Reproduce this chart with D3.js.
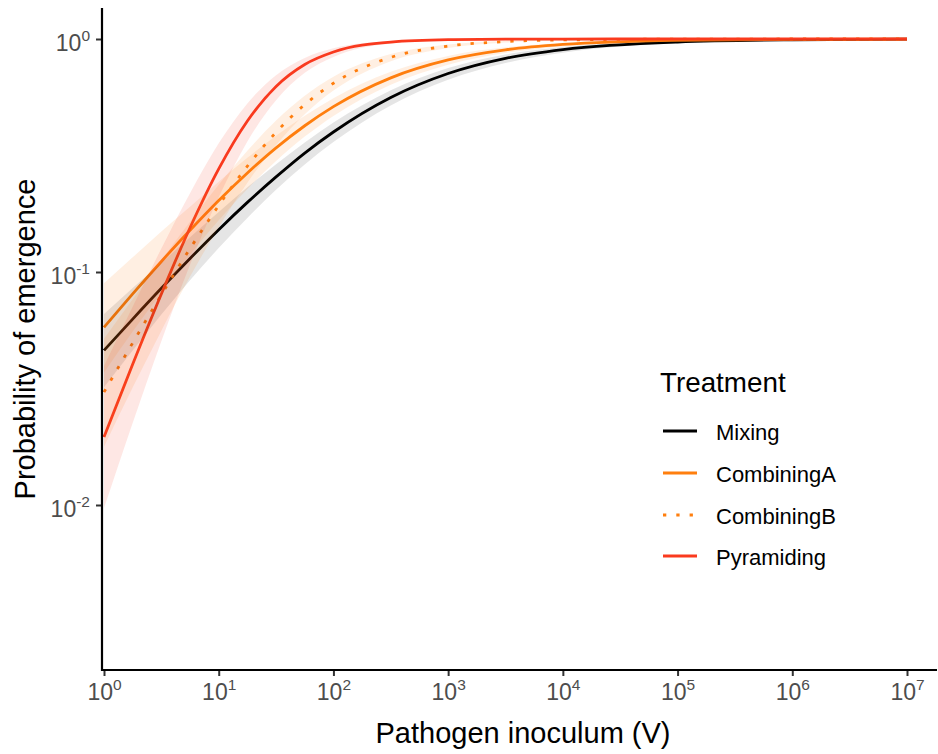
<!DOCTYPE html>
<html><head><meta charset="utf-8">
<script src="https://cdn.jsdelivr.net/npm/d3@7"></script>
<style>
body{margin:0;background:#fff}
text{font-family:"Liberation Sans",Arial,Helvetica,sans-serif}
</style>
</head><body>
<svg id="chart" width="938" height="754"></svg>
<script>
// ---------------- data ----------------
const inoculum = [1, 1.778, 3.162, 5.623, 10, 17.78, 31.62, 56.23, 100, 316.2, 1000, 3162, 1e4, 1e5, 1e6, 1e7];

const mixing   = [0.0461, 0.0628, 0.0851, 0.1143, 0.152, 0.199, 0.256, 0.324, 0.399, 0.561, 0.711, 0.826, 0.901, 0.971, 0.992, 0.998];
const mixingLo = [0.0320, 0.0460, 0.0657, 0.0922, 0.1267, 0.1704, 0.2253, 0.2896, 0.3613, 0.5187, 0.6682, 0.7883, 0.8733, 0.9589, 0.9874, 0.9962];
const mixingHi = [0.0660, 0.0853, 0.1096, 0.1409, 0.1809, 0.2311, 0.2901, 0.3595, 0.4378, 0.6023, 0.7503, 0.8576, 0.9234, 0.9800, 0.9950, 0.9988];

const combiningA   = [0.0579, 0.0805, 0.111, 0.151, 0.2026, 0.266, 0.341, 0.4243, 0.5125, 0.6813, 0.8131, 0.8985, 0.9473, 0.9868, 0.9968, 0.9992];
const combiningALo = [0.0370, 0.0555, 0.0817, 0.1187, 0.1666, 0.2271, 0.2994, 0.3811, 0.4675, 0.6365, 0.7756, 0.8710, 0.9289, 0.9800, 0.9946, 0.9985];
const combiningAHi = [0.0895, 0.1156, 0.1493, 0.1908, 0.2441, 0.3089, 0.3846, 0.4688, 0.5573, 0.7231, 0.8455, 0.9206, 0.9612, 0.9913, 0.9981, 0.9996];

const combiningB   = [0.0305, 0.0496, 0.0798, 0.126, 0.193, 0.2845, 0.3977, 0.5231, 0.6457, 0.834, 0.9328, 0.9746, 0.9906, 0.9988, 0.9998, 1.0];
const combiningBLo = [0.0178, 0.0319, 0.0560, 0.0956, 0.1558, 0.2418, 0.3509, 0.4756, 0.6011, 0.8030, 0.9152, 0.9659, 0.9868, 0.9980, 0.9997, 1.0];
const combiningBHi = [0.0517, 0.0764, 0.1125, 0.1642, 0.2369, 0.3312, 0.4465, 0.5702, 0.6878, 0.8612, 0.9469, 0.9810, 0.9934, 0.9992, 0.9999, 1.0];

const pyramiding   = [0.0196, 0.0402, 0.0805, 0.1548, 0.2769, 0.4446, 0.626, 0.7777, 0.8798, 0.9697, 0.9929, 0.9984, 0.9996, 1.0, 1.0, 1.0];
const pyramidingLo = [0.0097, 0.0225, 0.0505, 0.1074, 0.2092, 0.3630, 0.5461, 0.7156, 0.8375, 0.9554, 0.9887, 0.9972, 0.9993, 1.0, 1.0, 1.0];
const pyramidingHi = [0.0395, 0.0709, 0.1262, 0.2180, 0.3566, 0.5293, 0.6995, 0.8296, 0.9122, 0.9795, 0.9956, 0.9991, 0.9998, 1.0, 1.0, 1.0];

const treatments = ["Mixing", "CombiningA", "CombiningB", "Pyramiding"];
const xTicks = [1, 10, 100, 1e3, 1e4, 1e5, 1e6, 1e7];
const yTicks = [0.01, 0.1, 1];

// ---------------- setup ----------------
const colors = {Mixing: "#000000", CombiningA: "#FF7F0E", CombiningB: "#FF7F0E", Pyramiding: "#FA3A1E"};
const dashes = {Mixing: null, CombiningA: null, CombiningB: "3.3 10", Pyramiding: null};
const series = [
  {name: "Mixing", mid: mixing, lo: mixingLo, hi: mixingHi},
  {name: "CombiningA", mid: combiningA, lo: combiningALo, hi: combiningAHi},
  {name: "CombiningB", mid: combiningB, lo: combiningBLo, hi: combiningBHi},
  {name: "Pyramiding", mid: pyramiding, lo: pyramidingLo, hi: pyramidingHi}
];

const svg = d3.select("#chart");
svg.append("rect").attr("width", 938).attr("height", 754).attr("fill", "#fff");

const panel = {left: 102, right: 937, top: 8, bottom: 670};
const x = d3.scaleLog().domain([1, 1e7]).range([104, 907]);
const y = d3.scaleLog().domain([0.01, 1]).range([505, 39]);

const line = d3.line().x(d => x(d[0])).y(d => y(d[1])).curve(d3.curveMonotoneX);
const area = d3.area().x(d => x(d[0])).y0(d => y(d[1])).y1(d => y(d[2])).curve(d3.curveMonotoneX);

const plot = svg.append("g");
// lines
series.forEach(s => {
  plot.append("path")
    .datum(inoculum.map((v, i) => [v, s.mid[i]]))
    .attr("d", line)
    .attr("fill", "none")
    .attr("stroke", colors[s.name])
    .attr("stroke-width", 2.8)
    .attr("stroke-dasharray", dashes[s.name]);
});
// ribbons
series.forEach(s => {
  plot.append("path")
    .datum(inoculum.map((v, i) => [v, s.lo[i], s.hi[i]]))
    .attr("d", area)
    .attr("fill", colors[s.name])
    .attr("fill-opacity", s.name === "Mixing" ? 0.1 : 0.12)
    .attr("stroke", "none");
});

// ---------------- axes ----------------
const supLabel = (sel, v, size, supSize, supDy) => {
  const e = Math.round(Math.log10(v));
  sel.append("tspan").text("10").attr("font-size", size);
  sel.append("tspan").text(String(e)).attr("font-size", supSize).attr("dy", supDy);
};

const xAxis = svg.append("g").attr("transform", `translate(0,${panel.bottom})`)
  .call(d3.axisBottom(x).tickValues(xTicks).tickSize(6).tickFormat(""));
xAxis.select(".domain").remove();
xAxis.selectAll(".tick line").attr("stroke", "#333").attr("stroke-width", 2);
xAxis.selectAll(".tick").each(function(v) {
  const t = d3.select(this).append("text")
    .attr("y", 30).attr("text-anchor", "middle").attr("fill", "#4D4D4D");
  supLabel(t, v, 23, 15.5, -10);
});

const yAxis = svg.append("g").attr("transform", `translate(${panel.left},0)`)
  .call(d3.axisLeft(y).tickValues(yTicks).tickSize(6).tickFormat(""));
yAxis.select(".domain").remove();
yAxis.selectAll(".tick line").attr("stroke", "#333").attr("stroke-width", 2);
yAxis.selectAll(".tick").each(function(v) {
  const t = d3.select(this).append("text")
    .attr("x", -12).attr("y", 11).attr("text-anchor", "end").attr("fill", "#4D4D4D");
  supLabel(t, v, 23, 15.5, -10);
});

svg.append("line").attr("x1", panel.left).attr("x2", panel.right)
  .attr("y1", panel.bottom).attr("y2", panel.bottom).attr("stroke", "#000").attr("stroke-width", 2.2);
svg.append("line").attr("x1", panel.left).attr("x2", panel.left)
  .attr("y1", panel.top).attr("y2", panel.bottom + 1).attr("stroke", "#000").attr("stroke-width", 2.2);

svg.append("text").attr("x", 523).attr("y", 743).attr("text-anchor", "middle")
  .attr("font-size", 29).attr("fill", "#000").text("Pathogen inoculum (V)");
svg.append("text").attr("transform", "translate(35,339) rotate(-90)").attr("text-anchor", "middle")
  .attr("font-size", 29).attr("fill", "#000").text("Probability of emergence");

// ---------------- legend ----------------
const legend = svg.append("g");
legend.append("text").attr("x", 660).attr("y", 392).attr("font-size", 27.8).attr("fill", "#000").text("Treatment");
const legY = [431, 473, 515, 556];
treatments.forEach((name, i) => {
  legend.append("line").attr("x1", 663).attr("x2", 697).attr("y1", legY[i]).attr("y2", legY[i])
    .attr("stroke", colors[name]).attr("stroke-width", 2.8).attr("stroke-dasharray", dashes[name]);
  legend.append("text").attr("x", 716).attr("y", legY[i] + 9).attr("font-size", 22).attr("fill", "#000").text(name);
});
</script>
</body></html>
